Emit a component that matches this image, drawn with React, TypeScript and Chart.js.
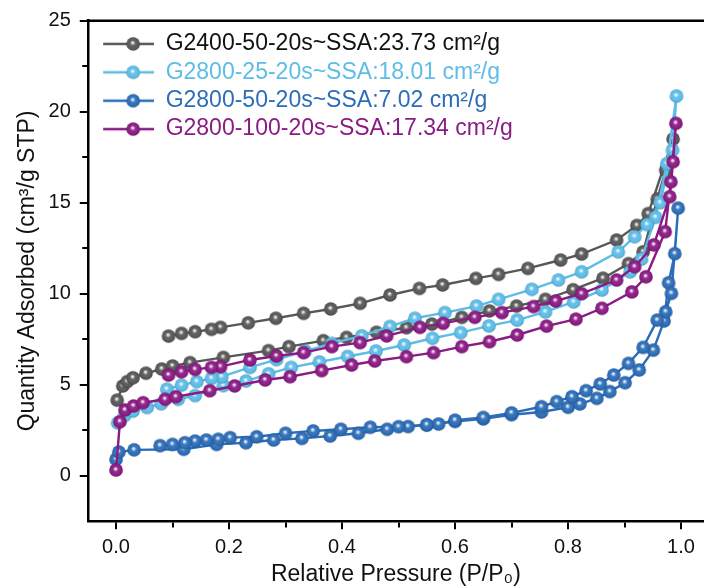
import React, { useEffect, useRef } from 'react';
import { Chart, registerables } from 'chart.js';

Chart.register(...registerables);

const FONT = '"Liberation Sans", Arial, Helvetica, sans-serif';

// ---- Data ----
const seriesLabels = [
  'G2400-50-20s~SSA:23.73 cm²/g',
  'G2800-25-20s~SSA:18.01 cm²/g',
  'G2800-50-20s~SSA:7.02 cm²/g',
  'G2800-100-20s~SSA:17.34 cm²/g',
];

const xTickValues = [0, 0.1, 0.2, 0.3, 0.4, 0.5, 0.6, 0.7, 0.8, 0.9, 1.0];
const yTickValues = [0, 2.5, 5, 7.5, 10, 12.5, 15, 17.5, 20, 22.5, 25];

// G2400-50-20s
const g2400AdsP = [0.002, 0.012, 0.02, 0.03, 0.053, 0.081, 0.1, 0.131, 0.19, 0.27, 0.306, 0.367, 0.408, 0.461, 0.514, 0.559, 0.612, 0.661, 0.709, 0.76, 0.809, 0.862, 0.907, 0.933, 0.958, 0.973, 0.986];
const g2400AdsQ = [4.15, 4.93, 5.17, 5.38, 5.63, 5.86, 6.03, 6.21, 6.5, 6.87, 7.09, 7.42, 7.6, 7.88, 8.13, 8.33, 8.7, 9.05, 9.32, 9.69, 10.22, 10.85, 11.65, 12.3, 15.2, 16.8, 18.5];
const g2400DesP = [0.942, 0.922, 0.886, 0.824, 0.787, 0.729, 0.677, 0.637, 0.578, 0.537, 0.485, 0.432, 0.38, 0.332, 0.283, 0.234, 0.185, 0.169, 0.14, 0.116, 0.093];
const g2400DesQ = [14.4, 13.75, 12.95, 12.18, 11.85, 11.39, 11.06, 10.84, 10.48, 10.29, 9.93, 9.47, 9.16, 8.92, 8.65, 8.4, 8.15, 8.04, 7.91, 7.82, 7.67];

// G2800-25-20s
const g2825AdsP = [0.003, 0.015, 0.03, 0.055, 0.08, 0.11, 0.14, 0.19, 0.23, 0.27, 0.31, 0.36, 0.41, 0.46, 0.51, 0.56, 0.61, 0.66, 0.71, 0.76, 0.81, 0.86, 0.91, 0.93, 0.955, 0.975, 0.992];
const g2825AdsQ = [2.9, 3.3, 3.55, 3.75, 3.95, 4.2, 4.4, 4.95, 5.2, 5.6, 5.95, 6.25, 6.55, 6.85, 7.18, 7.55, 7.86, 8.23, 8.55, 9.0, 9.55, 10.2, 11.2, 11.9, 14.2, 17.15, 20.86];
const g2825DesP = [0.985, 0.963, 0.94, 0.918, 0.889, 0.824, 0.783, 0.736, 0.677, 0.638, 0.582, 0.529, 0.485, 0.435, 0.382, 0.335, 0.284, 0.237, 0.187, 0.169, 0.143, 0.116, 0.09];
const g2825DesQ = [17.9, 15.0, 13.8, 13.13, 12.3, 11.2, 10.75, 10.24, 9.69, 9.32, 8.96, 8.65, 8.2, 7.68, 7.27, 6.85, 6.38, 5.95, 5.44, 5.35, 5.17, 4.98, 4.75];

// G2800-50-20s
const g2850AdsP = [0, 0.005, 0.032, 0.12, 0.178, 0.23, 0.279, 0.329, 0.379, 0.429, 0.48, 0.517, 0.55, 0.6, 0.65, 0.7, 0.753, 0.8, 0.821, 0.851, 0.874, 0.901, 0.926, 0.951, 0.97, 0.978, 0.989, 0.995];
const g2850AdsQ = [0.9, 1.3, 1.42, 1.45, 1.72, 1.81, 1.96, 2.05, 2.18, 2.33, 2.55, 2.7, 2.78, 2.98, 3.12, 3.35, 3.5, 3.76, 3.94, 4.25, 4.62, 5.11, 5.81, 6.9, 8.5, 10.6, 12.2, 14.7];
const g2850DesP = [0.983, 0.973, 0.958, 0.933, 0.907, 0.881, 0.857, 0.832, 0.807, 0.78, 0.753, 0.7, 0.65, 0.6, 0.571, 0.55, 0.5, 0.45, 0.398, 0.349, 0.3, 0.249, 0.202, 0.181, 0.16, 0.14, 0.122, 0.1, 0.078];
const g2850DesQ = [10.02, 9.01, 8.55, 7.05, 6.17, 5.53, 5.04, 4.67, 4.34, 4.07, 3.79, 3.45, 3.2, 3.05, 2.84, 2.8, 2.69, 2.66, 2.55, 2.46, 2.33, 2.14, 2.09, 2.0, 1.96, 1.9, 1.81, 1.72, 1.65];

// G2800-100-20s
const g28100AdsP = [0, 0.007, 0.016, 0.031, 0.048, 0.087, 0.106, 0.166, 0.21, 0.264, 0.308, 0.364, 0.417, 0.458, 0.514, 0.562, 0.612, 0.661, 0.71, 0.762, 0.814, 0.86, 0.913, 0.938, 0.972, 0.982, 0.991];
const g28100AdsQ = [0.31, 2.97, 3.61, 3.83, 4.01, 4.2, 4.34, 4.67, 4.93, 5.26, 5.44, 5.77, 6.08, 6.3, 6.54, 6.76, 7.09, 7.36, 7.73, 8.22, 8.6, 9.2, 10.1, 10.93, 13.41, 16.15, 19.36];
const g28100DesP = [0.986, 0.98, 0.952, 0.918, 0.886, 0.824, 0.778, 0.739, 0.683, 0.635, 0.579, 0.538, 0.479, 0.432, 0.382, 0.332, 0.284, 0.237, 0.185, 0.169, 0.14, 0.116, 0.093];
const g28100DesQ = [17.25, 15.33, 12.68, 11.48, 10.75, 10.0, 9.6, 9.29, 8.96, 8.7, 8.37, 8.15, 7.68, 7.31, 7.09, 6.76, 6.58, 6.36, 5.99, 5.95, 5.84, 5.71, 5.53];

const lineColors = ['#585858', '#5dbde8', '#2c6db8', '#8b1b84'];
const textColors = ['#111111', '#5dbde8', '#2c6db8', '#8b1b84'];

const seriesP = [
  [...g2400AdsP, ...g2400DesP],
  [...g2825AdsP, ...g2825DesP],
  [...g2850AdsP, ...g2850DesP],
  [...g28100AdsP, ...g28100DesP],
];
const seriesQ = [
  [...g2400AdsQ, ...g2400DesQ],
  [...g2825AdsQ, ...g2825DesQ],
  [...g2850AdsQ, ...g2850DesQ],
  [...g28100AdsQ, ...g28100DesQ],
];

const CANVAS_W = 704;
const CANVAS_H = 588;

function shade(hex: string, f: number): string {
  const n = parseInt(hex.slice(1), 16);
  let r = (n >> 16) & 255, g = (n >> 8) & 255, b = n & 255;
  if (f < 0) { r *= 1 + f; g *= 1 + f; b *= 1 + f; }
  else { r += (255 - r) * f; g += (255 - g) * f; b += (255 - b) * f; }
  return `rgb(${Math.round(r)},${Math.round(g)},${Math.round(b)})`;
}

function drawSphere(ctx: CanvasRenderingContext2D, cx: number, cy: number, r: number, color: string) {
  const g = ctx.createRadialGradient(cx - 0.6, cy - 1.4, 0, cx, cy, r);
  g.addColorStop(0, '#ffffff');
  g.addColorStop(0.14, shade(color, 0.75));
  g.addColorStop(0.38, shade(color, 0.08));
  g.addColorStop(0.8, color);
  g.addColorStop(1, shade(color, -0.22));
  ctx.fillStyle = g;
  ctx.beginPath();
  ctx.arc(cx, cy, r, 0, Math.PI * 2);
  ctx.fill();
}

function makeSphere(color: string, r = 6.8): HTMLCanvasElement {
  const size = Math.ceil(r * 2 + 2);
  const c = document.createElement('canvas');
  c.width = size; c.height = size;
  const ctx = c.getContext('2d')!;
  drawSphere(ctx, size / 2, size / 2, r, color);
  return c;
}

function makeLegendIcon(color: string): HTMLCanvasElement {
  const c = document.createElement('canvas');
  c.width = 61; c.height = 16;
  const ctx = c.getContext('2d')!;
  ctx.strokeStyle = color;
  ctx.lineWidth = 2.5;
  ctx.beginPath();
  ctx.moveTo(10, 8);
  ctx.lineTo(61, 8);
  ctx.stroke();
  drawSphere(ctx, 40, 8, 6.8, color);
  return c;
}

const frame = {
  id: 'topFrame',
  afterDraw(chart: any) {
    const { ctx, chartArea } = chart;
    ctx.save();
    ctx.strokeStyle = '#000';
    ctx.lineWidth = 2.5;
    ctx.beginPath();
    ctx.moveTo(chartArea.left - 1.25, chartArea.top);
    ctx.lineTo(chartArea.right + 2, chartArea.top);
    ctx.stroke();
    ctx.restore();
  },
};

export default function App() {
  const ref = useRef<HTMLCanvasElement>(null);

  useEffect(() => {
    if (!ref.current) return;
    const spheres = lineColors.map((c) => makeSphere(c));
    const icons = lineColors.map((c) => makeLegendIcon(c));

    const datasets = seriesLabels.map((label, i) => ({
      label,
      data: seriesP[i].map((p, k) => ({ x: p, y: seriesQ[i][k] })),
      showLine: true,
      borderColor: lineColors[i],
      backgroundColor: lineColors[i],
      borderWidth: 2.4,
      pointStyle: spheres[i],
      pointRadius: 6.8,
      order: 3 - i,
    }));

    const chart = new Chart(ref.current, {
      type: 'scatter',
      data: { datasets },
      plugins: [frame],
      options: {
        animation: false,
        responsive: false,
        devicePixelRatio: 1,
        layout: { autoPadding: false, padding: { top: 20.7, right: 0, left: 0, bottom: 0 } },
        plugins: {
          tooltip: { enabled: false },
          legend: {
            position: 'chartArea',
            align: 'start',
            title: { display: true, text: '', font: { size: 1, lineHeight: 1 }, padding: { top: 26, bottom: 0 } },
            labels: {
              usePointStyle: true,
              pointStyleWidth: 61,
              padding: 5.4,
              font: { size: 23, family: FONT },
              generateLabels: () =>
                seriesLabels.map((text, i) => ({
                  text,
                  fillStyle: lineColors[i],
                  strokeStyle: lineColors[i],
                  fontColor: textColors[i],
                  pointStyle: icons[i],
                  lineWidth: 0,
                  hidden: false,
                  datasetIndex: i,
                })),
            },
          },
        },
        scales: {
          x: {
            type: 'linear',
            min: -0.05,
            max: 1.0407,
            afterBuildTicks: (scale: any) => {
              scale.ticks = xTickValues.map((value) => ({ value }));
            },
            afterFit: (scale: any) => {
              scale.height = 66.8;
              scale.paddingLeft = 0;
              scale.paddingRight = 0;
            },
            ticks: {
              autoSkip: false,
              maxRotation: 0,
              padding: 6,
              color: '#111',
              font: { size: 20, family: FONT },
              callback: (v: any) => (Math.round(Number(v) * 10) % 2 === 0 ? Number(v).toFixed(1) : ''),
            },
            grid: {
              drawOnChartArea: false,
              drawTicks: true,
              tickLength: 8,
              color: '#000',
              lineWidth: 2,
              tickBorderDash: (ctx: any) => {
                const v = ctx.tick ? ctx.tick.value : 0;
                return Math.round(v * 10) % 2 === 0 ? [] : [5, 100];
              },
            },
            border: { display: true, color: '#000', width: 2.5 },
            title: {
              display: true,
              text: 'Relative Pressure (P/P₀)',
              color: '#111',
              font: { size: 23, family: FONT },
              padding: { top: 0, bottom: 0 },
            },
          },
          y: {
            type: 'linear',
            min: -2.5,
            max: 25,
            afterBuildTicks: (scale: any) => {
              scale.ticks = yTickValues.map((value) => ({ value }));
            },
            afterFit: (scale: any) => {
              scale.width = 87.75;
              scale.paddingTop = 0;
              scale.paddingBottom = 0;
            },
            ticks: {
              autoSkip: false,
              padding: 9,
              color: '#111',
              font: { size: 20, family: FONT },
              callback: (v: any) => (Number(v) % 5 === 0 ? String(v) : ''),
            },
            grid: {
              drawOnChartArea: false,
              drawTicks: true,
              tickLength: 8,
              color: '#000',
              lineWidth: 2,
              tickBorderDash: (ctx: any) => {
                const v = ctx.tick ? ctx.tick.value : 0;
                return v % 5 === 0 ? [] : [0, 2.5, 5, 100];
              },
            },
            border: { display: true, color: '#000', width: 2.5 },
            title: {
              display: true,
              text: 'Quantity Adsorbed (cm³/g STP)',
              color: '#111',
              font: { size: 23, family: FONT },
              padding: { top: 14, bottom: 0 },
            },
          },
        },
      } as any,
    });
    return () => chart.destroy();
  }, []);

  return (
    <div style={{ position: 'fixed', left: 0, top: 0, width: CANVAS_W, height: CANVAS_H, overflow: 'hidden', background: '#fff' }}>
      <canvas ref={ref} width={CANVAS_W} height={CANVAS_H} style={{ display: 'block', width: CANVAS_W, height: CANVAS_H }} />
    </div>
  );
}
